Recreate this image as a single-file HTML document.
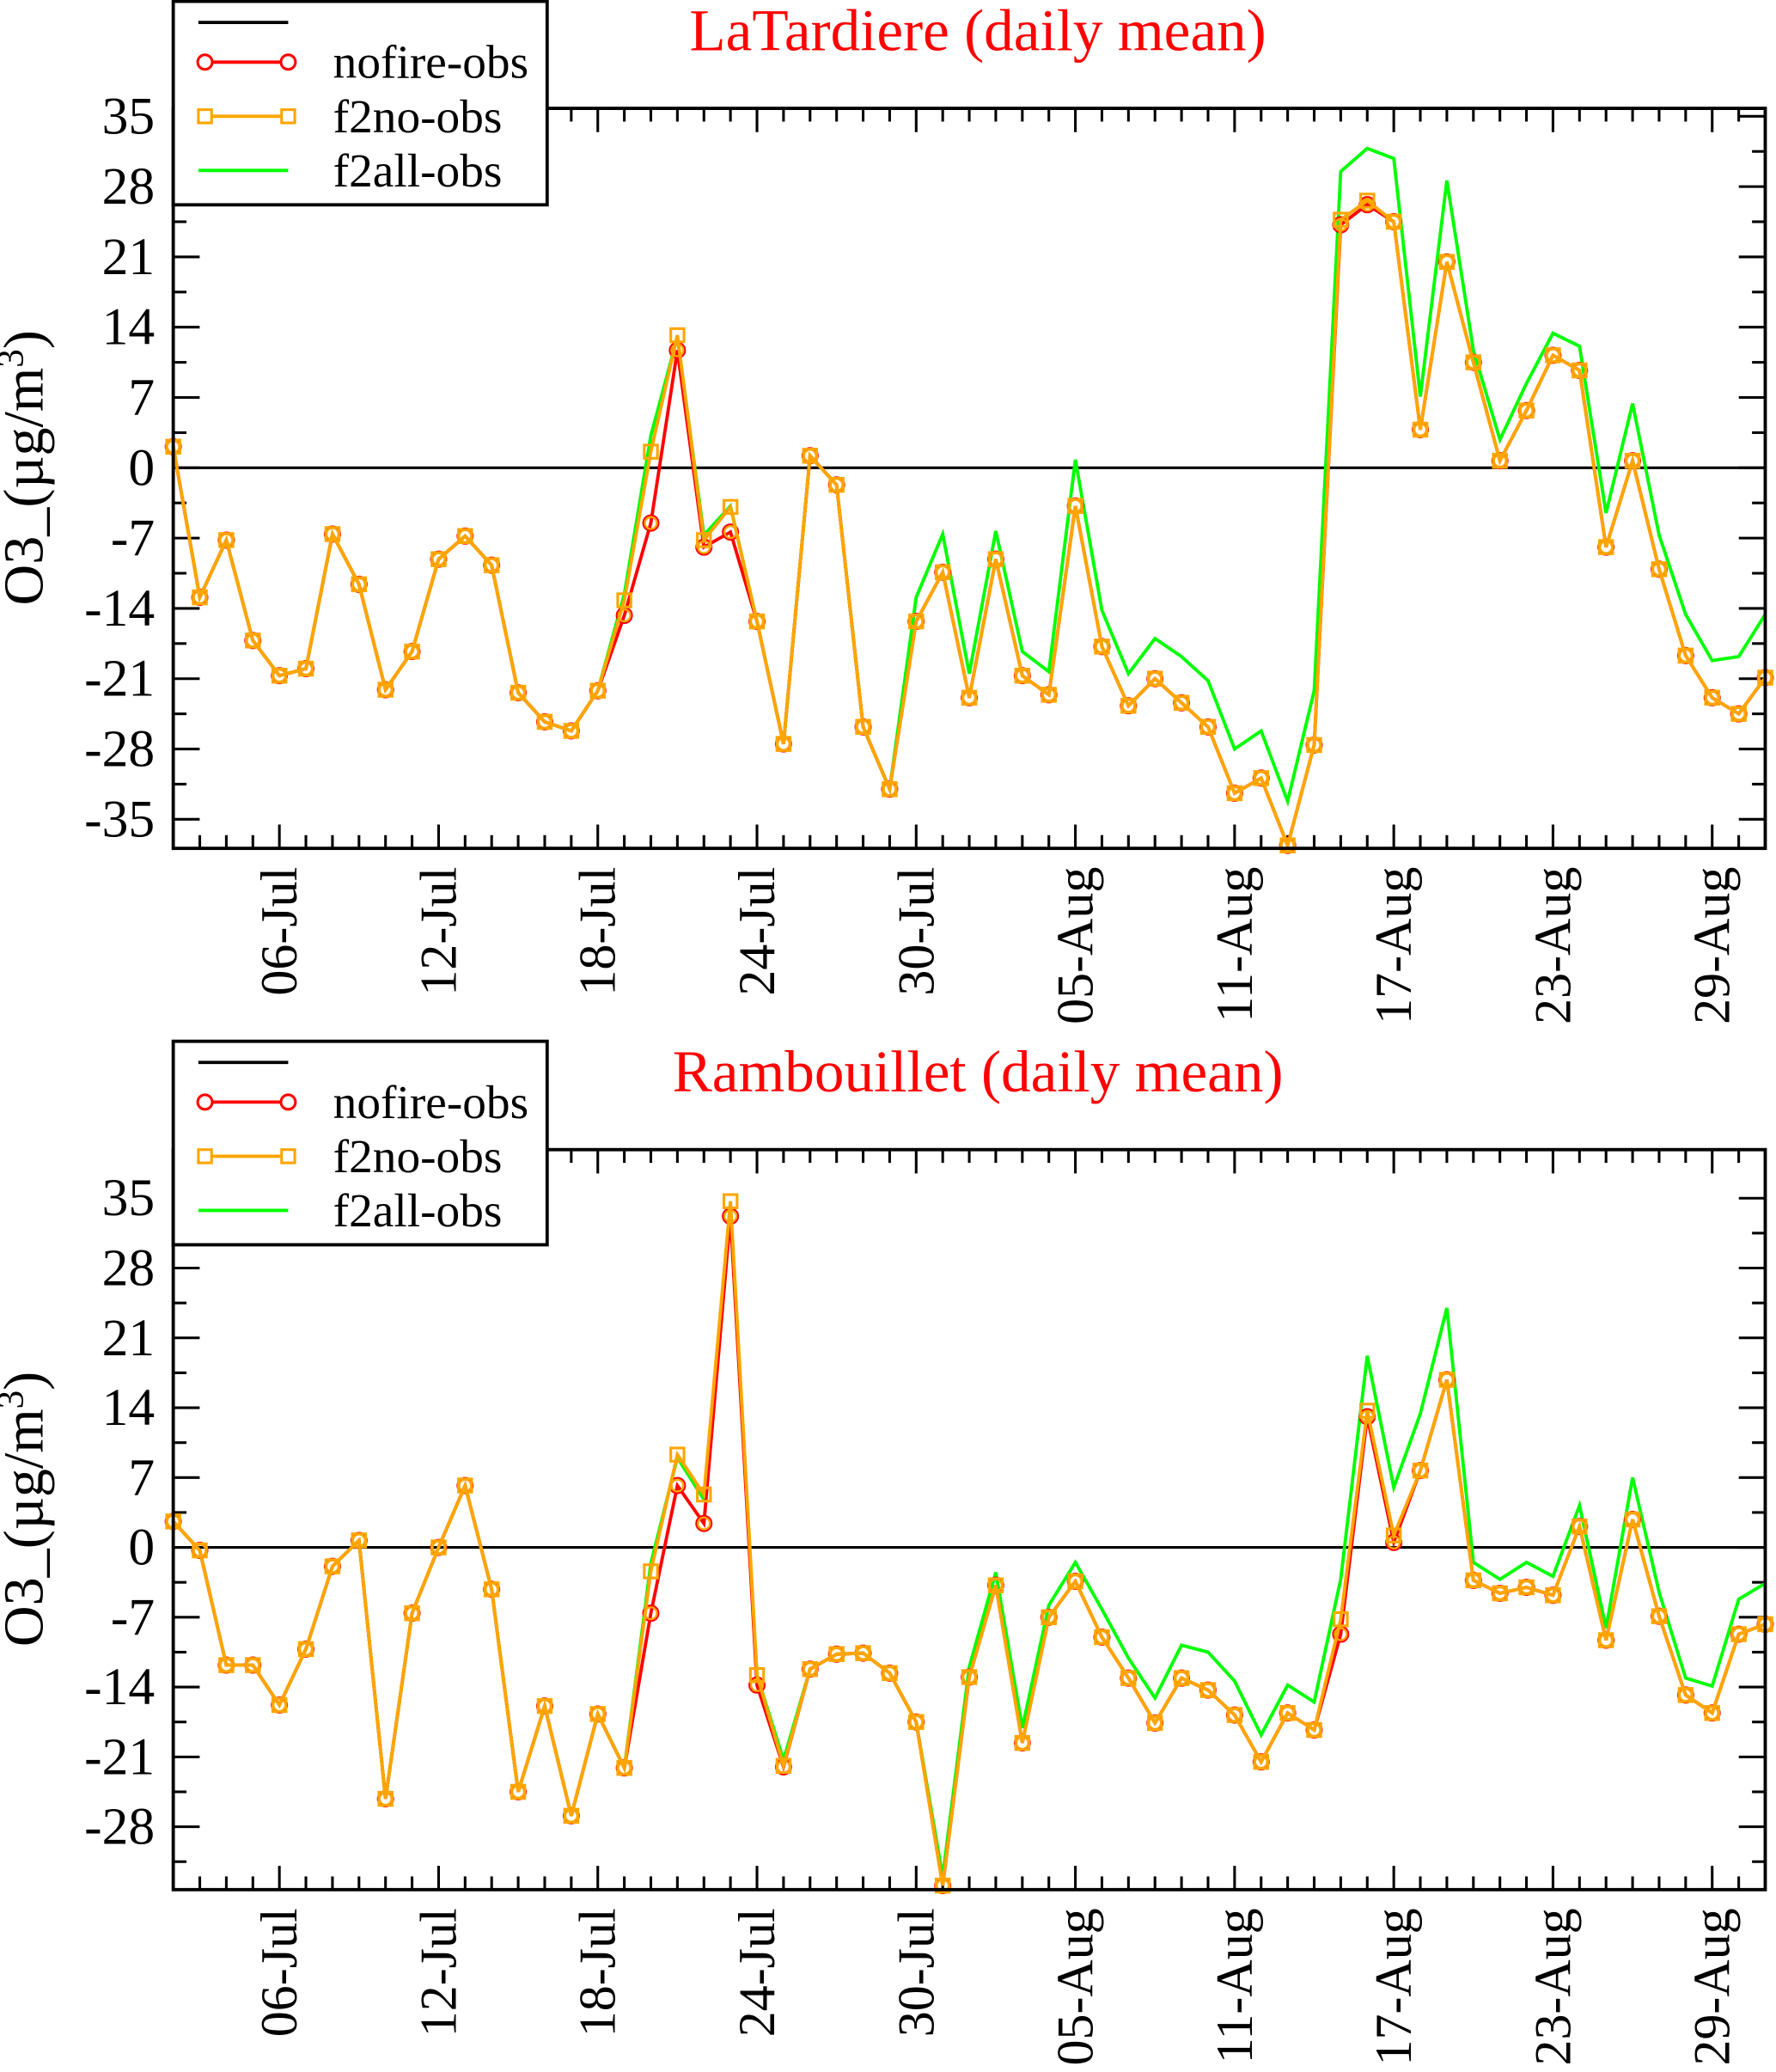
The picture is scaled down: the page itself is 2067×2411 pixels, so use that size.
<!DOCTYPE html>
<html><head><meta charset="utf-8"><style>body{margin:0;background:#fff}svg{display:block}</style></head>
<body>
<svg id="chart" width="2067" height="2411" viewBox="0 0 1344 1568" xmlns="http://www.w3.org/2000/svg" font-family="'Liberation Serif', serif"></svg>
<script>
const dayLabels = ["06-Jul","12-Jul","18-Jul","24-Jul","30-Jul","05-Aug","11-Aug","17-Aug","23-Aug","29-Aug"];
const labelDays = [4,10,16,22,28,34,40,46,52,58];
const yTicksTop = [35,28,21,14,7,0,-7,-14,-21,-28,-35];
const yTicksBot = [35,28,21,14,7,0,-7,-14,-21,-28];
const topNofire = [2.1,-12.9,-7.2,-17.2,-20.7,-20,-6.6,-11.6,-22.1,-18.3,-9.1,-6.8,-9.7,-22.4,-25.3,-26.2,-22.2,-14.7,-5.5,11.7,-7.9,-6.4,-15.3,-27.5,1.2,-1.7,-25.8,-32,-15.3,-10.4,-22.9,-9.1,-20.7,-22.6,-3.8,-17.8,-23.7,-21,-23.4,-25.8,-32.4,-30.9,-37.6,-27.6,24.2,26.2,24.5,3.8,20.5,10.5,0.7,5.7,11.2,9.7,-7.9,0.7,-10.1,-18.7,-22.9,-24.5,-20.9];
const topF2no = [2.1,-12.9,-7.2,-17.2,-20.7,-20,-6.6,-11.6,-22.1,-18.3,-9.1,-6.8,-9.7,-22.4,-25.3,-26.2,-22.2,-13.2,1.6,13.2,-7.2,-3.9,-15.3,-27.5,1.2,-1.7,-25.8,-32,-15.3,-10.4,-22.9,-9.1,-20.7,-22.6,-3.8,-17.8,-23.7,-21,-23.4,-25.8,-32.4,-30.9,-37.6,-27.6,24.7,26.6,24.5,3.8,20.5,10.5,0.7,5.7,11.2,9.7,-7.9,0.7,-10.1,-18.7,-22.9,-24.5,-20.9];
const topF2all = [2.1,-12.9,-7.2,-17.2,-20.7,-20,-6.6,-11.6,-22.1,-18.3,-9.1,-6.8,-9.7,-22.4,-25.3,-26.2,-22.2,-12.6,3.2,13,-6.7,-3.8,-15.3,-27.5,1.2,-1.7,-25.8,-32,-12.9,-6.6,-20.5,-6.3,-18.3,-20.3,0.8,-14.2,-20.5,-17,-18.8,-21.2,-28,-26.2,-33.2,-22.2,29.5,31.8,30.8,7.1,28.6,11.7,2.8,8.4,13.4,12.1,-4.5,6.4,-6.7,-14.6,-19.2,-18.8,-14.6];
const botNofire = [2.6,-0.3,-11.8,-11.8,-15.8,-10.2,-1.9,0.7,-25.2,-6.6,0,6.2,-4.2,-24.5,-15.9,-26.9,-16.7,-22.1,-6.6,6.2,2.4,33.2,-13.8,-22,-12.2,-10.7,-10.6,-12.6,-17.5,-33.9,-13,-3.8,-19.6,-7,-3.4,-9,-13.1,-17.6,-13.1,-14.3,-16.8,-21.5,-16.6,-18.3,-8.7,13.1,0.5,7.7,16.8,-3.3,-4.6,-4,-4.8,2.1,-9.3,2.8,-6.9,-14.8,-16.6,-8.7,-7.7];
const botF2no = [2.6,-0.3,-11.8,-11.8,-15.8,-10.2,-1.9,0.7,-25.2,-6.6,0,6.2,-4.2,-24.5,-15.9,-26.9,-16.7,-22.1,-2.4,9.3,5.3,34.7,-12.8,-21.9,-12.2,-10.7,-10.6,-12.6,-17.5,-33.9,-13,-3.8,-19.6,-7,-3.4,-9,-13.1,-17.6,-13.1,-14.3,-16.8,-21.5,-16.6,-18.3,-7.2,13.7,1.2,7.7,16.8,-3.3,-4.6,-4,-4.8,2.1,-9.3,2.8,-6.9,-14.8,-16.6,-8.7,-7.7];
const botF2all = [2.6,-0.3,-11.8,-11.8,-15.8,-10.2,-1.9,0.7,-25.2,-6.6,0,6.2,-4.2,-24.5,-15.9,-26.9,-16.7,-22.1,-1.6,9,4.8,33.2,-12.8,-21.3,-12.2,-10.7,-10.6,-12.6,-17.5,-33,-12,-2.5,-18.1,-5.8,-1.5,-6.2,-11.1,-15.1,-9.8,-10.5,-13.4,-18.8,-13.8,-15.5,-3.2,19.2,6,13.4,24,-1.5,-3.2,-1.5,-2.9,4.2,-8.1,7,-4.5,-13.1,-13.9,-5.2,-3.6];

const NS="http://www.w3.org/2000/svg";
const svg=document.getElementById('chart');
function mk(tag,attrs,parent){const e=document.createElementNS(NS,tag);for(const k in attrs)e.setAttribute(k,attrs[k]);(parent||svg).appendChild(e);return e;}

function panel(cfg){
  const g=mk('g',{});
  
  
  const L=131,R=1336,T=cfg.top,B=cfg.bottom;
  const xs=d=>L+(R-L)*d/60;
  const ys=v=>cfg.zeroY-v*cfg.ppu;
  for(let d=0;d<=60;d++){
    const x=xs(d), major=labelDays.includes(d);
    const len=major?18:10;
    mk('line',{x1:x,y1:B,x2:x,y2:B-len,stroke:'#000','stroke-width':2},g);
    mk('line',{x1:x,y1:T,x2:x,y2:T+len,stroke:'#000','stroke-width':2},g);
  }
  for(let v=-35;v<=35;v+=3.5){
    const y=ys(v); if(y<T||y>B) continue;
    const major=Math.abs(v%7)<0.01; const len=major?20:10;
    mk('line',{x1:L,y1:y,x2:L+len,y2:y,stroke:'#000','stroke-width':2},g);
    mk('line',{x1:R,y1:y,x2:R-len,y2:y,stroke:'#000','stroke-width':2},g);
  }
  cfg.yTicks.forEach(v=>{
    const t=mk('text',{x:117,y:ys(v)+13,'text-anchor':'end','font-size':40},g);
    
    
    t.textContent=String(v);
  });
  labelDays.forEach((d,i)=>{
    const x=xs(d)+13, y=B+14;
    const t=mk('text',{x:x,y:y,'text-anchor':'end','font-size':39,transform:`rotate(-90 ${x} ${y})`},g);
    
    
    t.textContent=dayLabels[i];
  });
  mk('line',{x1:L,y1:ys(0),x2:R,y2:ys(0),stroke:'#000','stroke-width':2},g);
  const pts=arr=>arr.map((v,i)=>xs(i)+','+ys(v)).join(' ');
  const ga=mk('polyline',{points:pts(cfg.all),fill:'none',stroke:'#00ff00','stroke-width':2.5},g);
  
  
  const gn=mk('polyline',{points:pts(cfg.nofire),fill:'none',stroke:'#ff0000','stroke-width':2.5},g);
  
  
  cfg.nofire.forEach((v,i)=>{
    const c=mk('circle',{cx:xs(i),cy:ys(v),r:5.5,fill:'none',stroke:'#ff0000','stroke-width':2},g);
    
    
  });
  const go=mk('polyline',{points:pts(cfg.f2no),fill:'none',stroke:'#ffa500','stroke-width':2.5},g);
  
  
  cfg.f2no.forEach((v,i)=>{
    const s=mk('rect',{x:xs(i)-5,y:ys(v)-5,width:10,height:10,fill:'none',stroke:'#ffa500','stroke-width':2},g);
    
    
  });
  cfg.nofire.forEach((v,i)=>{
    mk('circle',{cx:xs(i),cy:ys(v),r:4.5,fill:'none',stroke:'#ffa500','stroke-width':1.5},g);
  });
  mk('rect',{x:L,y:T,width:R-L,height:B-T,fill:'none',stroke:'#000','stroke-width':2.5},g);
  const cy=(T+B)/2-8;
  const yt=mk('text',{x:32,y:cy,'text-anchor':'middle','font-size':43,transform:`rotate(-90 32 ${cy})`},g);
  
  
  yt.innerHTML='O3_(µg/m<tspan baseline-shift="super" font-size="28">3</tspan>)';
  const tt=mk('text',{x:740,y:cfg.titleY,'text-anchor':'middle','font-size':45,fill:'#ff0000'},g);
  
  
  tt.textContent=cfg.title;
  const lg=mk('g',{},g);
  
  
  const ly=cfg.legendY;
  mk('rect',{x:131,y:ly,width:283,height:154,fill:'#fff',stroke:'#000','stroke-width':2.5},lg);
  mk('line',{x1:150,y1:ly+16,x2:218,y2:ly+16,stroke:'#000','stroke-width':2.5},lg);
  const rows=[['nofire-obs','#ff0000','c'],['f2no-obs','#ffa500','s'],['f2all-obs','#00ff00','n']];
  rows.forEach((r,k)=>{
    const yy=ly+46+k*41;
    const e=mk('g',{},lg);
    
    
    mk('line',{x1:150,y1:yy,x2:218,y2:yy,stroke:r[1],'stroke-width':2.5},e);
    [155,218].forEach(px=>{
      if(r[2]==='c') mk('circle',{cx:px,cy:yy,r:5.5,fill:'#fff',stroke:r[1],'stroke-width':2},e);
      if(r[2]==='s') mk('rect',{x:px-5,y:yy-5,width:10,height:10,fill:'#fff',stroke:r[1],'stroke-width':2},e);
    });
    const t=mk('text',{x:252,y:yy+12,'font-size':36},e);
    t.textContent=r[0];
  });
}
panel({name:'latardiere-panel',top:82,bottom:642,zeroY:354,ppu:7.6,yTicks:yTicksTop,nofire:topNofire,f2no:topF2no,all:topF2all,title:'LaTardiere (daily mean)',titleY:38,legendY:1});
panel({name:'rambouillet-panel',top:870,bottom:1430,zeroY:1171,ppu:7.55,yTicks:yTicksBot,nofire:botNofire,f2no:botF2no,all:botF2all,title:'Rambouillet (daily mean)',titleY:826,legendY:788});
</script>
</body></html>
